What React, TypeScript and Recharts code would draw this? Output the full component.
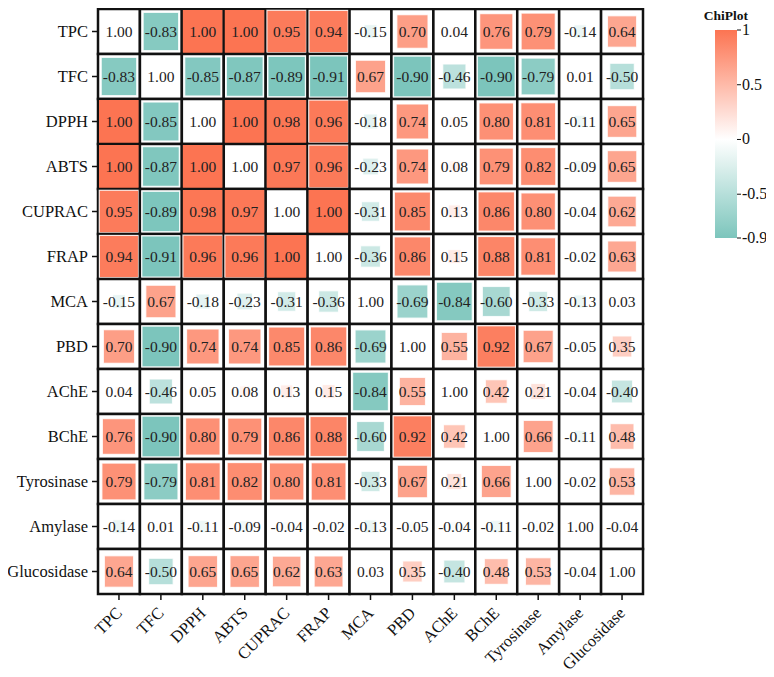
import React from "react"
import { ScatterChart, Scatter, XAxis, YAxis } from "recharts"

// variable names, in the order of the matrix rows / columns
const names = ["TPC", "TFC", "DPPH", "ABTS", "CUPRAC", "FRAP", "MCA", "PBD", "AChE", "BChE", "Tyrosinase", "Amylase", "Glucosidase"]

// correlation matrix, read row by row
const rTPC = [1.00, -0.83, 1.00, 1.00, 0.95, 0.94, -0.15, 0.70, 0.04, 0.76, 0.79, -0.14, 0.64]
const rTFC = [-0.83, 1.00, -0.85, -0.87, -0.89, -0.91, 0.67, -0.90, -0.46, -0.90, -0.79, 0.01, -0.50]
const rDPPH = [1.00, -0.85, 1.00, 1.00, 0.98, 0.96, -0.18, 0.74, 0.05, 0.80, 0.81, -0.11, 0.65]
const rABTS = [1.00, -0.87, 1.00, 1.00, 0.97, 0.96, -0.23, 0.74, 0.08, 0.79, 0.82, -0.09, 0.65]
const rCUPRAC = [0.95, -0.89, 0.98, 0.97, 1.00, 1.00, -0.31, 0.85, 0.13, 0.86, 0.80, -0.04, 0.62]
const rFRAP = [0.94, -0.91, 0.96, 0.96, 1.00, 1.00, -0.36, 0.86, 0.15, 0.88, 0.81, -0.02, 0.63]
const rMCA = [-0.15, 0.67, -0.18, -0.23, -0.31, -0.36, 1.00, -0.69, -0.84, -0.60, -0.33, -0.13, 0.03]
const rPBD = [0.70, -0.90, 0.74, 0.74, 0.85, 0.86, -0.69, 1.00, 0.55, 0.92, 0.67, -0.05, 0.35]
const rAChE = [0.04, -0.46, 0.05, 0.08, 0.13, 0.15, -0.84, 0.55, 1.00, 0.42, 0.21, -0.04, -0.40]
const rBChE = [0.76, -0.90, 0.80, 0.79, 0.86, 0.88, -0.60, 0.92, 0.42, 1.00, 0.66, -0.11, 0.48]
const rTyrosinase = [0.79, -0.79, 0.81, 0.82, 0.80, 0.81, -0.33, 0.67, 0.21, 0.66, 1.00, -0.02, 0.53]
const rAmylase = [-0.14, 0.01, -0.11, -0.09, -0.04, -0.02, -0.13, -0.05, -0.04, -0.11, -0.02, 1.00, -0.04]
const rGlucosidase = [0.64, -0.50, 0.65, 0.65, 0.62, 0.63, 0.03, 0.35, -0.40, 0.48, 0.53, -0.04, 1.00]

const matrix = [rTPC, rTFC, rDPPH, rABTS, rCUPRAC, rFRAP, rMCA, rPBD, rAChE, rBChE, rTyrosinase, rAmylase, rGlucosidase]

// colour bar
const legendTicks = [1, 0.5, 0, -0.5, -0.9]
const scaleMin = -0.9
const scaleMax = 1

const W = 760
const H = 668
const MARGIN = { top: 1, right: 125, bottom: 8, left: 0 }
const YW = 90
const XH = 74
const N = names.length
const cellW = (W - MARGIN.left - MARGIN.right - YW) / N
const cellH = (H - MARGIN.top - MARGIN.bottom - XH) / N

const FONT = "'Liberation Serif', 'DejaVu Serif', serif"
const POS = [252, 116, 82]
const NEG = [124, 197, 188]

function colorFor(v: number) {
    const base = v >= 0 ? POS : NEG
    const t = Math.min(1, v >= 0 ? v / scaleMax : v / scaleMin)
    const c = base.map(b => Math.round(255 + (b - 255) * t))
    return `rgb(${c[0]},${c[1]},${c[2]})`
}

const cells = matrix.flatMap((row, i) =>
    row.map((v, j) => ({ x: j + 0.5, y: i + 0.5, v, diag: i === j }))
)

const centers = names.map((_, i) => i + 0.5)

function Cell(props: any) {
    const { cx, cy, payload } = props
    const { v, diag } = payload
    const inW = cellW - 2
    const inH = cellH - 2
    const f = Math.min(1, 0.2 + 0.83 * Math.abs(v))
    const sw = inW * f
    const sh = inH * f
    return (
        <g>
            <rect x={cx - cellW / 2} y={cy - cellH / 2} width={cellW} height={cellH} fill="#fff" stroke="#111" strokeWidth={2.5} />
            {!diag && (
                <rect x={cx - sw / 2} y={cy - sh / 2} width={sw} height={sh} fill={colorFor(v)} stroke={f < 1 ? "#fff" : "none"} strokeWidth={1.2} strokeOpacity={0.8} />
            )}
            <text x={cx} y={cy + 5.5} textAnchor="middle" fontSize={15.5} fontFamily={FONT} fill="#222">{v.toFixed(2)}</text>
        </g>
    )
}

function XTick(props: any) {
    const { x, y, payload } = props
    const label = names[Math.round(payload.value - 0.5)]
    const ax = x + 4
    const ay = y + 12
    return (
        <text x={ax} y={ay} textAnchor="end" fontSize={16.5} fontFamily={FONT} fill="#111" transform={`rotate(-45, ${ax}, ${ay})`}>
            {label}
        </text>
    )
}

function YTick(props: any) {
    const { x, y, payload } = props
    const label = names[Math.round(payload.value - 0.5)]
    return (
        <text x={x - 2} y={y + 5.5} textAnchor="end" fontSize={16.5} fontFamily={FONT} fill="#111">{label}</text>
    )
}

function ColorBar() {
    const bx = 707
    const bw = 22
    const top = 22
    const len = 208
    const yOf = (v: number) => top + ((scaleMax - v) / (scaleMax - scaleMin)) * len
    const stops = [1, 0.75, 0.5, 0.25, 0, -0.25, -0.5, -0.75, -0.9]
    return (
        <svg width={W} height={H} style={{ position: "absolute", left: 0, top: 0, pointerEvents: "none", overflow: "visible" }}>
            <defs>
                <linearGradient id="cb" x1="0" y1="0" x2="0" y2="1">
                    {stops.map(s => (
                        <stop key={s} offset={(scaleMax - s) / (scaleMax - scaleMin)} stopColor={colorFor(s)} />
                    ))}
                </linearGradient>
            </defs>
            <text x={bx + bw / 2} y={12} textAnchor="middle" fontSize={13.5} fontWeight="bold" fontFamily={FONT} fill="#111">ChiPlot</text>
            <rect x={bx} y={top} width={bw} height={len} fill="url(#cb)" />
            {legendTicks.map(t => (
                <g key={t}>
                    <line x1={bx + bw} x2={bx + bw + 4} y1={yOf(t)} y2={yOf(t)} stroke="#111" strokeWidth={1} />
                    <text x={bx + bw + 5} y={yOf(t) + 5} fontSize={16} fontFamily={FONT} fill="#111">{String(t)}</text>
                </g>
            ))}
        </svg>
    )
}

export default function App() {
    return (
        <div style={{ position: "relative", width: W, height: H }}>
            <ScatterChart width={W} height={H} margin={MARGIN} style={{ overflow: "visible" }}>
                <XAxis
                    type="number"
                    dataKey="x"
                    domain={[0, N]}
                    ticks={centers}
                    interval={0}
                    height={XH}
                    axisLine={false}
                    tickLine={{ stroke: "#111", strokeWidth: 1.5 }}
                    tickSize={6}
                    tick={<XTick />}
                />
                <YAxis
                    type="number"
                    dataKey="y"
                    domain={[0, N]}
                    reversed
                    ticks={centers}
                    interval={0}
                    width={YW}
                    axisLine={false}
                    tickLine={{ stroke: "#111", strokeWidth: 1.5 }}
                    tickSize={6}
                    tick={<YTick />}
                />
                <Scatter data={cells} shape={<Cell />} isAnimationActive={false} />
            </ScatterChart>
            <ColorBar />
        </div>
    )
}
